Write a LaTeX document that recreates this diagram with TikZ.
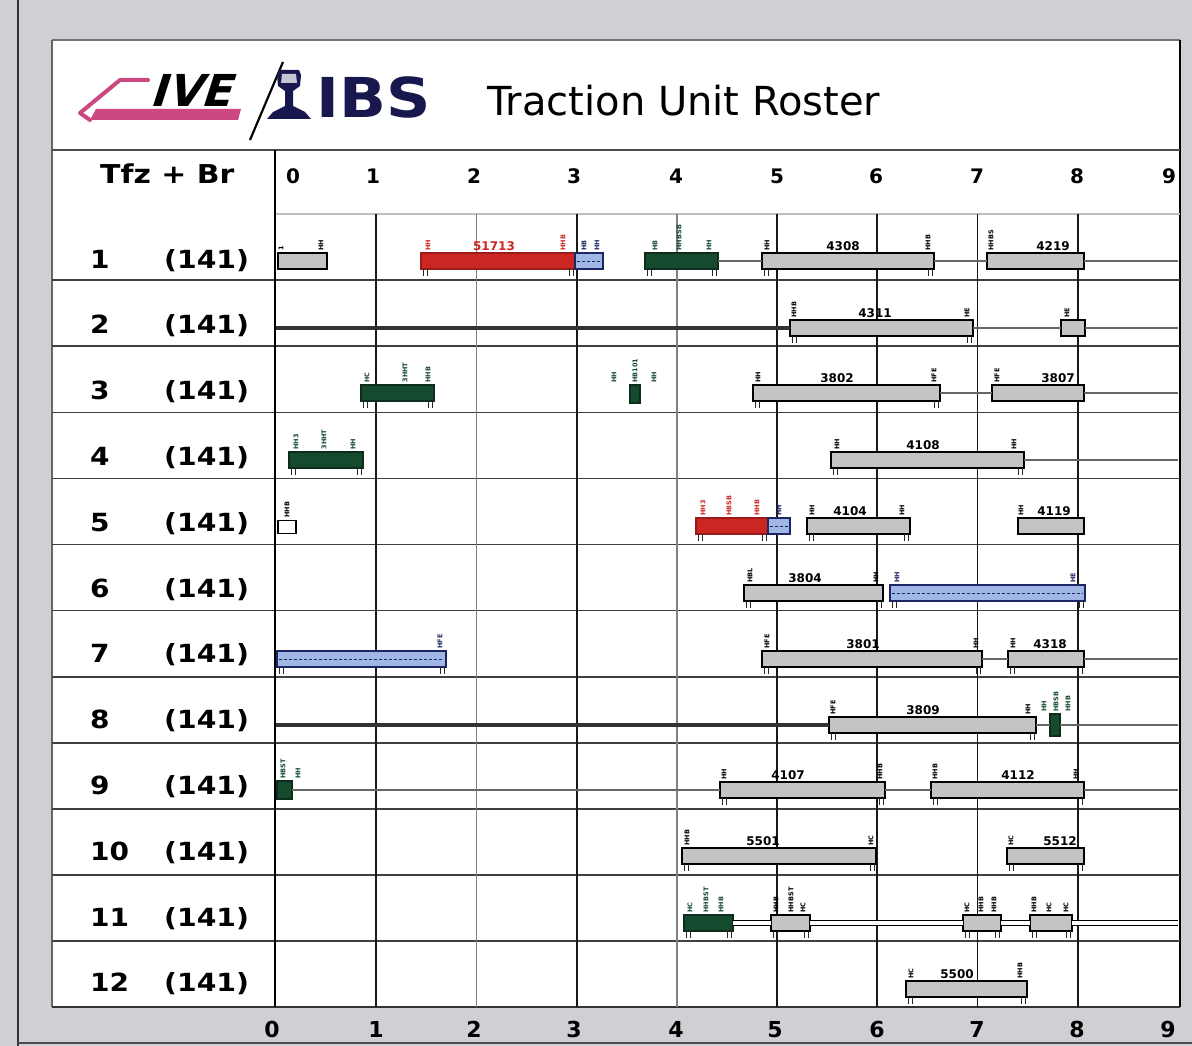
\documentclass[tikz,border=0pt]{standalone}
\usepackage{fontspec}
\setmainfont{DejaVu Sans}
\usetikzlibrary{calc}
\definecolor{scan}{RGB}{208,208,212}
\definecolor{barg}{RGB}{196,196,198}
\definecolor{barr}{RGB}{204,38,34}
\definecolor{barb}{RGB}{160,182,228}
\definecolor{barbd}{RGB}{28,38,100}
\definecolor{barG}{RGB}{22,74,46}
\definecolor{navy}{RGB}{24,24,78}
\definecolor{pinkc}{RGB}{204,72,128}
\newcount\tkc
\newcommand\trb[5]{\pgfmathsetmacro\trw{#4-#3}\node[#2, minimum width=\trw pt] (#1) at (#3,#5) {};}
\newcommand\tk[4]{\global\advance\tkc by 1 \node[tlab, text=#4] (tk\the\tkc) at (#1,#2) {#3};}
\newcommand\legs[1]{%
  \draw[legline] ([xshift=2pt]#1.south west) -- ++(0,7);
  \draw[legline] ([xshift=6pt]#1.south west) -- ++(0,7);
  \draw[legline] ([xshift=-2pt]#1.south east) -- ++(0,7);
  \draw[legline] ([xshift=-6pt]#1.south east) -- ++(0,7);}
\newcommand\bstripe[1]{\draw[barbd, line width=0.9pt, dash pattern=on 3pt off 2pt] ([xshift=2pt]#1.west) -- ([xshift=-2pt]#1.east);}
\begin{document}
\begin{tikzpicture}[x=1pt,y=-1pt,
  trbar/.style={draw=black, line width=1.2pt, minimum height=16pt, inner sep=0pt, outer sep=0pt, anchor=west},
  gbar/.style={trbar, fill=barg},
  wbar/.style={trbar, fill=white, minimum height=13pt},
  rbar/.style={trbar, fill=barr, draw=barr!75!black},
  bbar/.style={trbar, fill=barb, draw=barbd, line width=1.5pt},
  Gbar/.style={trbar, fill=barG, draw=barG!60!black},
  num/.style={font=\bfseries\fontsize{12}{12}\selectfont, anchor=base, inner sep=0pt},
  tlab/.style={font=\bfseries\fontsize{6.5}{6.5}\selectfont, rotate=90, anchor=west, inner sep=0.3pt},
  legline/.style={line width=1pt, draw=black!85},
  runline/.style={line width=2.6pt, draw=black!60},
  darkrun/.style={line width=3.4pt, draw=black!80},
  dconn/.style={draw=black, line width=1pt, double=white, double distance=3.5pt},
  vgrid/.style={line width=1.8pt, draw=black!90},
  vgridl/.style={line width=1.6pt, draw=black!50},
  hgrid/.style={line width=1.6pt, draw=black!75},
  axnum/.style={font=\bfseries\fontsize{20}{20}\selectfont, anchor=base, inner sep=0pt},
  botnum/.style={font=\bfseries\fontsize{22}{22}\selectfont, anchor=base, inner sep=0pt},
  rowlbl/.style={font=\bfseries\fontsize{25}{25}\selectfont, anchor=base west, inner sep=0pt}]
\useasboundingbox (0,0) rectangle (1192,1046);
% page and panel
\fill[scan] (0,0) rectangle (1192,1046);
\fill[white] (52,40) rectangle (1180,1007);
\draw[black!80, line width=1.5pt] (18,0) -- (18,1046);
\draw[black!55, line width=1.5pt] (52,40) -- (1180,40);
\draw[black!60, line width=1.8pt] (52,40) -- (52,1007);
\draw[black, line width=2pt] (1180,40) -- (1180,1007);
\draw[black!70, line width=1.5pt] (52,150) -- (1180,150);
\draw[black!80, line width=1.6pt] (52,1007) -- (1180,1007);
\draw[black!70, line width=1.2pt] (18,1043) -- (1192,1043);
% grid
\draw[black!25, line width=1.2pt] (274,214) -- (1180,214);
\foreach \i in {1,...,11} \draw[hgrid] (52,{214+66.1*\i}) -- (1180,{214+66.1*\i});
\foreach \h in {1,3,5,6,7,8} \draw[vgrid] ({276+100.2*\h},214) -- ++(0,793);
\foreach \h in {2,4} \draw[vgridl] ({276+100.2*\h},214) -- ++(0,793);
\draw[black, line width=2.2pt] (275,150) -- (275,1007);
% logo
\fill[pinkc] (96,109) -- (241,109) -- (238,120) -- (90,120) -- cycle;
\draw[pinkc, line width=4pt, line join=round, line cap=round] (148,80) -- (120,80) -- (80,113) -- (90,120);
\begin{scope}[shift={(190,107)}]
\node[font=\bfseries\fontsize{44}{44}\selectfont, xslant=0.32, transform shape, anchor=base, inner sep=0pt] (ive) at (0,0) {IVE};
\end{scope}
\draw[black, line width=2.2pt] (250,140) -- (283,62);
\fill[navy] (279,70) -- (299,70) -- (301,75) -- (300,86) -- (293,91) -- (293,106) -- (305,112) -- (311,119) -- (267,119) -- (273,112) -- (285,106) -- (285,91) -- (278,86) -- (277,75) -- cycle;
\fill[white!75!navy] (282,74) -- (296,74) -- (297,83) -- (281,83) -- cycle;
\node[font=\bfseries\fontsize{55}{55}\selectfont, text=navy, anchor=base west, inner sep=0pt] (ibs) at (316,118) {\scalebox{1.12}[1]{IBS}};
\node[font=\fontsize{40}{40}\selectfont, anchor=base west, inner sep=0pt] (title) at (487,116) {Traction Unit Roster};
% header row
\node[font=\bfseries\fontsize{26}{26}\selectfont, anchor=base west, inner sep=0pt] (hdr) at (100,183) {\scalebox{1.15}[1]{Tfz + Br}};
\foreach \n/\x in {0/293,1/373,2/474,3/574,4/676,5/777,6/876,7/977,8/1077,9/1169}
  \node[axnum] (ax\n) at (\x,184) {\n};
\foreach \n/\x in {0/272,1/376,2/474,3/574,4/676,5/775,6/877,7/977,8/1077,9/1168}
  \node[botnum] (bx\n) at (\x,1037) {\n};
% row labels
\foreach \i in {1,...,12} {
  \node[rowlbl] (rn\i) at (90,{268+65.8*(\i-1)}) {\scalebox{1.12}[1]{\i}};
  \node[rowlbl] (rb\i) at (164,{268+65.8*(\i-1)}) {\scalebox{1.13}[1]{(141)}};
}
% ---------- row 1
\trb{r1a}{gbar}{278}{327}{261}
\trb{r1b}{rbar}{421}{575}{261}
\trb{r1c}{bbar}{575}{603}{261}\bstripe{r1c}
\trb{r1d}{Gbar}{645}{718}{261}
\trb{r1e}{gbar}{762}{934}{261}
\trb{r1f}{gbar}{987}{1084}{261}
\coordinate (c1e) at (1178,261);
\draw[runline] (r1d.east) -- (r1e.west);
\draw[runline] (r1e.east) -- (r1f.west);
\draw[runline] (r1f.east) -- (c1e);
\node[num, text=barr] (n1b) at (494,250) {51713};
\node[num] (n1e) at (843,250) {4308};
\node[num] (n1f) at (1053,250) {4219};
\tk{281}{251}{1}{black}\tk{321}{251}{HH}{black}
\tk{428}{251}{HH}{barr}\tk{563}{251}{HHB}{barr}
\tk{584}{251}{HB}{barbd}\tk{597}{251}{HH}{barbd}
\tk{655}{251}{HB}{barG}\tk{679}{251}{HHBSB}{barG}\tk{709}{251}{HH}{barG}
\tk{767}{251}{HH}{black}\tk{928}{251}{HHB}{black}\tk{991}{251}{HHBS}{black}
\legs{r1b}\legs{r1d}\legs{r1e}
% ---------- row 2
\coordinate (c2s) at (276,328);
\coordinate (c2e) at (1178,328);
\trb{r2a}{gbar}{790}{973}{328}
\trb{r2b}{gbar}{1061}{1085}{328}
\draw[darkrun] (c2s) -- (r2a.west);
\draw[runline] (r2a.east) -- (r2b.west);
\draw[runline] (r2b.east) -- (c2e);
\node[num] (n2a) at (875,317) {4311};
\tk{794}{318}{HHB}{black}\tk{967}{318}{HE}{black}\tk{1067}{318}{HE}{black}
\legs{r2a}
% ---------- row 3
\trb{r3a}{Gbar}{361}{434}{393}
\trb{r3b}{Gbar, minimum height=18pt}{630}{640}{394}
\trb{r3c}{gbar}{753}{940}{393}
\trb{r3d}{gbar}{992}{1084}{393}
\coordinate (c3e) at (1178,393);
\draw[runline] (r3c.east) -- (r3d.west);
\draw[runline] (r3d.east) -- (c3e);
\node[num] (n3c) at (837,382) {3802};
\node[num] (n3d) at (1058,382) {3807};
\tk{367}{383}{HC}{barG}\tk{405}{383}{3HHT}{barG}\tk{428}{383}{HHB}{barG}
\tk{614}{383}{HH}{barG}\tk{635}{383}{HB101}{barG}\tk{654}{383}{HH}{barG}
\tk{758}{383}{HH}{black}\tk{934}{383}{HFE}{black}\tk{997}{383}{HFE}{black}
\legs{r3a}\legs{r3c}
% ---------- row 4
\trb{r4a}{Gbar}{289}{363}{460}
\trb{r4b}{gbar}{831}{1024}{460}
\coordinate (c4e) at (1178,460);
\draw[runline] (r4b.east) -- (c4e);
\node[num] (n4b) at (923,449) {4108};
\tk{296}{450}{HH3}{barG}\tk{324}{450}{3HHT}{barG}\tk{353}{450}{HH}{barG}
\tk{837}{450}{HH}{black}\tk{1014}{450}{HH}{black}
\legs{r4a}\legs{r4b}
% ---------- row 5
\trb{r5a}{wbar}{278}{296}{527}
\trb{r5b}{rbar}{696}{768}{526}
\trb{r5c}{bbar}{768}{790}{526}\bstripe{r5c}
\trb{r5d}{gbar}{807}{910}{526}
\trb{r5e}{gbar}{1018}{1084}{526}
\node[num] (n5d) at (850,515) {4104};
\node[num] (n5e) at (1054,515) {4119};
\tk{287}{518}{HHB}{black}
\tk{703}{516}{HH3}{barr}\tk{729}{516}{HBSB}{barr}\tk{757}{516}{HHB}{barr}
\tk{779}{516}{HH}{barbd}
\tk{812}{516}{HH}{black}\tk{902}{516}{HH}{black}\tk{1021}{516}{HH}{black}
\legs{r5b}\legs{r5d}
% ---------- row 6
\trb{r6a}{gbar}{744}{883}{593}
\trb{r6b}{bbar}{890}{1085}{593}\bstripe{r6b}
\node[num] (n6a) at (805,582) {3804};
\tk{750}{583}{HBL}{black}\tk{876}{583}{HH}{black}
\tk{897}{583}{HH}{barbd}\tk{1073}{583}{HE}{barbd}
\legs{r6a}\legs{r6b}
% ---------- row 7
\trb{r7a}{bbar}{277}{446}{659}\bstripe{r7a}
\trb{r7b}{gbar}{762}{982}{659}
\trb{r7c}{gbar}{1008}{1084}{659}
\coordinate (c7e) at (1178,659);
\draw[runline] (r7b.east) -- (r7c.west);
\draw[runline] (r7c.east) -- (c7e);
\node[num] (n7b) at (863,648) {3801};
\node[num] (n7c) at (1050,648) {4318};
\tk{440}{649}{HFE}{barbd}
\tk{767}{649}{HFE}{black}\tk{976}{649}{HH}{black}\tk{1013}{649}{HH}{black}
\legs{r7a}\legs{r7b}\legs{r7c}
% ---------- row 8
\coordinate (c8s) at (276,725);
\coordinate (c8e) at (1178,725);
\trb{r8a}{gbar}{829}{1036}{725}
\trb{r8b}{Gbar, minimum height=22pt}{1050}{1060}{725}
\draw[darkrun] (c8s) -- (r8a.west);
\draw[runline] (r8a.east) -- (r8b.west);
\draw[runline] (r8b.east) -- (c8e);
\node[num] (n8a) at (923,714) {3809};
\tk{833}{715}{HFE}{black}\tk{1028}{715}{HH}{black}
\tk{1044}{712}{HH}{barG}\tk{1056}{712}{HBSB}{barG}\tk{1068}{712}{HHB}{barG}
\legs{r8a}
% ---------- row 9
\trb{r9a}{Gbar, minimum height=18pt}{277}{292}{790}
\trb{r9b}{gbar}{720}{885}{790}
\trb{r9c}{gbar}{931}{1084}{790}
\coordinate (c9e) at (1178,790);
\draw[runline] (r9a.east) -- (r9b.west);
\draw[runline] (r9b.east) -- (r9c.west);
\draw[runline] (r9c.east) -- (c9e);
\node[num] (n9b) at (788,779) {4107};
\node[num] (n9c) at (1018,779) {4112};
\tk{283}{779}{HBST}{barG}\tk{298}{779}{HH}{barG}
\tk{724}{780}{HH}{black}\tk{880}{780}{HHB}{black}\tk{935}{780}{HHB}{black}\tk{1076}{780}{HH}{black}
\legs{r9b}\legs{r9c}
% ---------- row 10
\trb{r10a}{gbar}{682}{876}{856}
\trb{r10b}{gbar}{1007}{1084}{856}
\node[num] (n10a) at (763,845) {5501};
\node[num] (n10b) at (1060,845) {5512};
\tk{687}{846}{HHB}{black}\tk{871}{846}{HC}{black}\tk{1011}{846}{HC}{black}
\legs{r10a}\legs{r10b}
% ---------- row 11
\trb{r11a}{Gbar}{684}{733}{923}
\trb{r11b}{gbar}{771}{810}{923}
\trb{r11c}{gbar}{963}{1001}{923}
\trb{r11d}{gbar}{1030}{1072}{923}
\coordinate (c11e) at (1178,923);
\draw[dconn] (r11a.east) -- (r11b.west);
\draw[dconn] (r11b.east) -- (r11c.west);
\draw[dconn] (r11c.east) -- (r11d.west);
\draw[dconn] (r11d.east) -- (c11e);
\tk{690}{913}{HC}{barG}\tk{706}{913}{HHBST}{barG}\tk{721}{913}{HHB}{barG}
\tk{776}{913}{HHB}{black}\tk{791}{913}{HHBST}{black}\tk{803}{913}{HC}{black}
\tk{967}{913}{HC}{black}\tk{981}{913}{HHB}{black}\tk{994}{913}{HHB}{black}
\tk{1034}{913}{HHB}{black}\tk{1049}{913}{HC}{black}\tk{1066}{913}{HC}{black}
\legs{r11a}\legs{r11b}\legs{r11c}\legs{r11d}
% ---------- row 12
\trb{r12a}{gbar}{906}{1027}{989}
\node[num] (n12a) at (957,978) {5500};
\tk{911}{979}{HC}{black}\tk{1020}{979}{HHB}{black}
\legs{r12a}
\end{tikzpicture}
\end{document}
